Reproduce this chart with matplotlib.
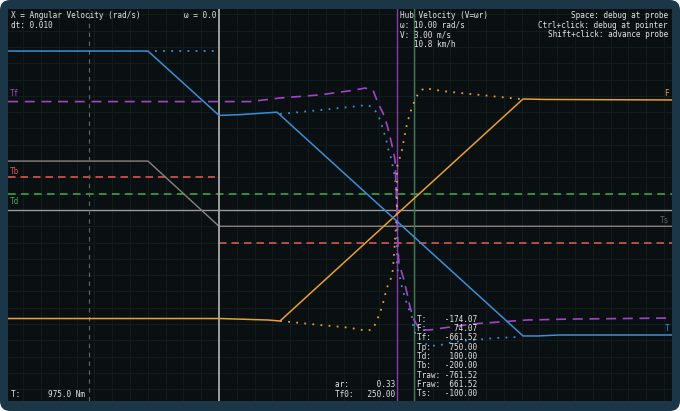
import matplotlib
matplotlib.use("Agg")
import matplotlib.pyplot as plt
from matplotlib.patches import FancyBboxPatch

# ---- data (omega in rad/s, torque in Nm) ----
T_W = [-11.85, -3.99, 0.0, 1.2, 3.26, 17.08, 17.9, 19.1, 25.45]
T_V = [975, 975, 580, 585, 600, -773, -773, -767, -767]

T_RAW_A_W = [-3.6, -0.22]
T_RAW_A_V = [975, 975]
T_RAW_B_W = [3.43, 5.67, 7.36, 8.31, 8.60, 8.88, 9.10, 9.21, 9.38, 9.49, 9.66, 9.78, 9.89,
             10.0, 10.0, 10.17, 10.28, 10.45, 10.62, 10.84, 10.90, 11.07, 11.69, 12.25,
             13.15, 14.27, 15.62, 16.91]
T_RAW_B_V = [589, 613, 632, 644, 632, 595, 540, 491, 442, 380, 319, 258, 196,
             0, -356, -417, -472, -540, -595, -656, -706, -773, -828, -834,
             -810, -798, -785, -779]

TF_W = [-11.85, 1.74, 3.43, 5.67, 7.64, 8.20, 8.65, 8.93, 9.21, 9.44, 9.61, 9.78, 9.89,
        9.94, 10.0, 10.06, 10.11, 10.39, 10.56, 10.73, 10.96, 11.29, 11.85, 12.98,
        14.27, 15.79, 17.30, 19.89, 25.45]
TF_V = [665, 665, 687, 706, 736, 748, 736, 656, 595, 521, 448, 368, 307,
        153, 0, -245, -325, -429, -509, -595, -675, -736, -736, -718,
        -699, -687, -675, -669, -663]

F_W = [-11.85, 0.06, 1.85, 2.75, 3.43, 17.08, 18.31, 25.45]
F_V = [-666, -666, -672, -675, -681, 681, 678, 675]

F_RAW_W = [3.43, 4.55, 5.67, 6.97, 7.75, 8.31, 8.65, 8.88, 9.16, 9.33, 9.49, 9.72, 9.78,
           9.89, 10.0, 10.0, 10.17, 10.28, 10.51, 10.62, 10.79, 10.96, 11.18, 11.52,
           11.85, 12.53, 13.54, 14.66, 15.79, 16.91]
F_RAW_V = [-681, -693, -706, -718, -730, -742, -730, -675, -595, -521, -460, -405, -350,
           -184, 0, 264, 325, 368, 503, 552, 613, 663, 712, 748,
           742, 730, 718, 706, 693, 681]

TS_W = [-11.85, -3.99, 0.0, 25.45]
TS_V = [300, 300, -100, -100]

TD = 100
TB_LEFT_W = [-11.85, -0.22]
TB_LEFT = 200
TB_RIGHT_W = [0.0, 25.45]
TB_RIGHT = -200

OMEGA_ZERO = 0.0
OMEGA_HUB = 10.0
OMEGA_PROBE = 10.96
OMEGA_MARK = -7.3

X_LIM = (-11.854, 25.449)
Y_LIM = (-1172, 1233)

TOP_LEFT = ["X = Angular Velocity (rad/s)", "dt: 0.010"]
HUB_TEXT = ["Hub Velocity (V=\u03c9r)", "\u03c9: 10.00 rad/s", "V: 3.00 m/s", "   10.8 km/h"]
HELP_TEXT = ["Space: debug at probe", "Ctrl+click: debug at pointer", "Shift+click: advance probe"]
PROBE_TEXT = ["T:    -174.07", "F:      74.07", "Tf:   -661.52", "Tp:    750.00",
              "Td:    100.00", "Tb:   -200.00", "Traw: -761.52", "Fraw:  661.52",
              "Ts:   -100.00"]
MID_TEXT = ["ar:      0.33", "Tf0:   250.00"]

BLUE = "#3a8fd8"
ORANGE = "#e8a030"
PURPLE = "#a244c8"
GREEN = "#3fae4f"
RED = "#d6584f"
TEXT = "#e4e4e4"
MONO = "DejaVu Sans Mono"
FS = 5.6

W, H = 680, 411
fig = plt.figure(figsize=(W / 100, H / 100), dpi=100)
fig.patch.set_facecolor("#f4f6f7")
frame = FancyBboxPatch((0, 0), 1, 1, boxstyle="round,pad=0,rounding_size=0.015",
                       transform=fig.transFigure, facecolor="#1b3646",
                       edgecolor="none", mutation_aspect=W / H, zorder=-10)
fig.patches.append(frame)

ax = fig.add_axes([8 / W, (H - 401) / H, 664 / W, 392 / H])
ax.set_facecolor("#0a0f12")
ax.set_xlim(*X_LIM)
ax.set_ylim(*Y_LIM)
ax.set_xticks(range(-11, 26))
ax.set_yticks(range(-1100, 1300, 100))
ax.grid(True, color="#131d1c", linewidth=0.7)
ax.set_axisbelow(True)
ax.tick_params(length=0, labelbottom=False, labelleft=False)
for s in ax.spines.values():
    s.set_visible(False)

# reference lines
ax.axhline(0, color="#9a9a9a", lw=1.0, zorder=2)
ax.axhline(TD, color=GREEN, lw=1.1, ls=(0, (5, 3.5)), zorder=2)
ax.plot(TB_LEFT_W, [TB_LEFT] * 2, color=RED, lw=1.2, ls=(0, (4.5, 3)), zorder=2)
ax.plot(TB_RIGHT_W, [TB_RIGHT] * 2, color=RED, lw=1.2, ls=(0, (4.5, 3)), zorder=2)
ax.plot(TS_W, TS_V, color="#8a847e", lw=1.0, zorder=2)

ax.axvline(OMEGA_MARK, color="#666a6a", lw=0.8, ls=(0, (4, 4)), zorder=2)
ax.axvline(OMEGA_ZERO, color="#a8a8a8", lw=1.3, zorder=3)
ax.axvline(OMEGA_HUB, color="#8a3aa8", lw=1.0, zorder=3)
ax.axvline(OMEGA_PROBE, color="#3c7a4c", lw=1.0, zorder=3)

# curves
ax.plot(TF_W, TF_V, color=PURPLE, lw=1.2, ls=(0, (6, 4)), zorder=4)
ax.plot(T_RAW_A_W, T_RAW_A_V, color=BLUE, lw=1.3, ls=(0, (1, 3.5)), zorder=4)
ax.plot(T_RAW_B_W, T_RAW_B_V, color=BLUE, lw=1.3, ls=(0, (1, 3.5)), zorder=4)
ax.plot(F_RAW_W, F_RAW_V, color=ORANGE, lw=1.3, ls=(0, (1, 3.5)), zorder=4)
ax.plot(F_W, F_V, color=ORANGE, lw=1.1, zorder=5)
ax.plot(T_W, T_V, color=BLUE, lw=1.1, zorder=5)


def ftext(x, y, s, **kw):
    kw.setdefault("color", TEXT)
    kw.setdefault("ha", "left")
    fig.text(x / W, 1 - y / H, s, family=MONO, fontsize=FS, va="center", **kw)


# curve labels
ftext(10, 93, "Tf", color=PURPLE)
ftext(10, 172, "Tb", color=RED)
ftext(10, 201, "Td", color=GREEN)
ftext(669, 94, "F", color=ORANGE, ha="right")
ftext(669, 220, "Ts", color="#5e6262", ha="right")
ftext(669, 328, "T", color=BLUE, ha="right")

for i, s in enumerate(TOP_LEFT):
    ftext(11, 16 + i * 9.3, s)
ftext(216, 16, "\u03c9 = 0.0", ha="right")
for i, s in enumerate(HUB_TEXT):
    ftext(400, 16 + i * 9.3, s)
for i, s in enumerate(HELP_TEXT):
    ftext(668, 16 + i * 9.3, s, ha="right")
for i, s in enumerate(PROBE_TEXT):
    ftext(417, 319 + i * 9.35, s)
for i, s in enumerate(MID_TEXT):
    ftext(335, 384.7 + i * 9.35, s)
ftext(11, 394, "T:      975.0 Nm")

fig.savefig("out.png", dpi=100, facecolor=fig.get_facecolor())
